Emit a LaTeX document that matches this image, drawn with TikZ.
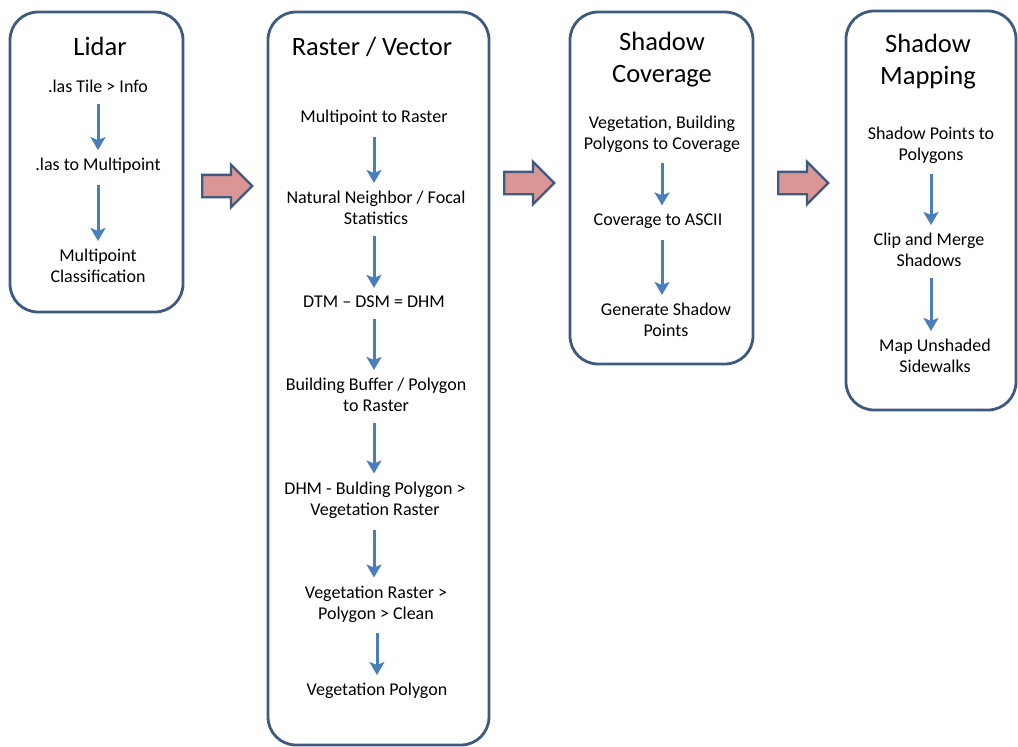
\documentclass[tikz,border=0pt]{standalone}
\usepackage{fontspec}
\setmainfont{Carlito}
\usepackage{tikz}
\usetikzlibrary{arrows.meta, positioning, shapes.arrows}

\definecolor{frameblue}{HTML}{3E5A80}
\definecolor{flowblue}{HTML}{4A7EBB}
\definecolor{blockpink}{HTML}{D99694}

\tikzset{
  stage/.style={draw=frameblue, line width=2.8pt, rounded corners=28pt, fill=white},
  heading/.style={font=\fontsize{26.5}{32}\selectfont, align=center, inner sep=0pt},
  task/.style={font=\fontsize{18}{21}\selectfont, align=center, inner sep=0pt},
  flow/.style={draw=flowblue, line width=3pt, -{Stealth[width=15pt,length=13pt,inset=3pt]},
    shorten <=11pt, shorten >=8pt},
  handoff/.style={single arrow, draw=frameblue, line width=2.4pt, fill=blockpink,
    inner sep=0pt, inner ysep=10pt, minimum height=50pt, single arrow head extend=10pt,
    anchor=tail}
}

\begin{document}
\begin{tikzpicture}[x=1pt, y=-1pt]
  \useasboundingbox (0,0) rectangle (1018,747);

  % Stage boxes
  \draw[stage] (10,12) rectangle (183,312);
  \draw[stage] (268,12) rectangle (489,745);
  \draw[stage] (570,12) rectangle (753,364);
  \draw[stage] (846,11) rectangle (1016,410);

  % Lidar
  \node[heading] (lidar) at (100,46) {Lidar};
  \node[task] (tile) at (98,86) {.las Tile > Info};
  \node[task] (multi) at (98,166) {.las to Multipoint};
  \node[task] (classify) at (98,266) {Multipoint\\Classification};
  \draw[flow] (tile) -- (multi);
  \draw[flow] (multi) -- (classify);

  % Raster / Vector
  \node[heading] (raster) at (372,47) {Raster / Vector};
  \node[task] (toraster) at (374,118) {Multipoint to Raster};
  \node[task] (neighbor) at (376,208) {Natural Neighbor / Focal\\Statistics};
  \node[task] (dhm) at (374,302) {DTM -- DSM = DHM};
  \node[task] (buffer) at (376,395) {Building Buffer / Polygon\\to Raster};
  \node[task] (vegraster) at (375,500) {DHM - Bulding Polygon >\\Vegetation Raster};
  \node[task] (clean) at (376,604) {Vegetation Raster >\\Polygon > Clean};
  \node[task] (vegpoly) at (377,691) {Vegetation Polygon};
  \draw[flow] (toraster) -- (toraster |- neighbor.north);
  \draw[flow] (neighbor.south -| toraster) -- (toraster |- dhm.north);
  \draw[flow] (dhm) -- (dhm |- buffer.north);
  \draw[flow] (buffer.south -| dhm) -- (dhm |- vegraster.north);
  \draw[flow] (vegraster.south -| dhm) -- (dhm |- clean.north);
  \draw[flow] (clean.south -| vegpoly) -- (vegpoly);

  % Shadow Coverage
  \node[heading] (coverage) at (662,60) {Shadow\\Coverage};
  \node[task] (tocoverage) at (662,134) {Vegetation, Building\\Polygons to Coverage};
  \node[task] (ascii) at (658,221) {Coverage to ASCII};
  \node[task] (points) at (666,320) {Generate Shadow\\Points};
  \draw[flow] (tocoverage) -- (tocoverage |- ascii.north);
  \draw[flow] (ascii.south -| tocoverage) -- (tocoverage |- points.north);

  % Shadow Mapping
  \node[heading] (mapping) at (928,62) {Shadow\\Mapping};
  \node[task] (topoly) at (931,145) {Shadow Points to\\Polygons};
  \node[task] (merge) at (929,250) {Clip and Merge\\Shadows};
  \node[task] (sidewalks) at (935,356) {Map Unshaded\\Sidewalks};
  \draw[flow] (topoly) -- (topoly |- merge.north);
  \draw[flow] (merge.south -| topoly) -- (topoly |- sidewalks.north);

  % Hand-off arrows
  \node[handoff] (hand1) at (201,186) {};
  \node[handoff] (hand2) at (503,183) {};
  \node[handoff] (hand3) at (777,183) {};
\end{tikzpicture}
\end{document}
